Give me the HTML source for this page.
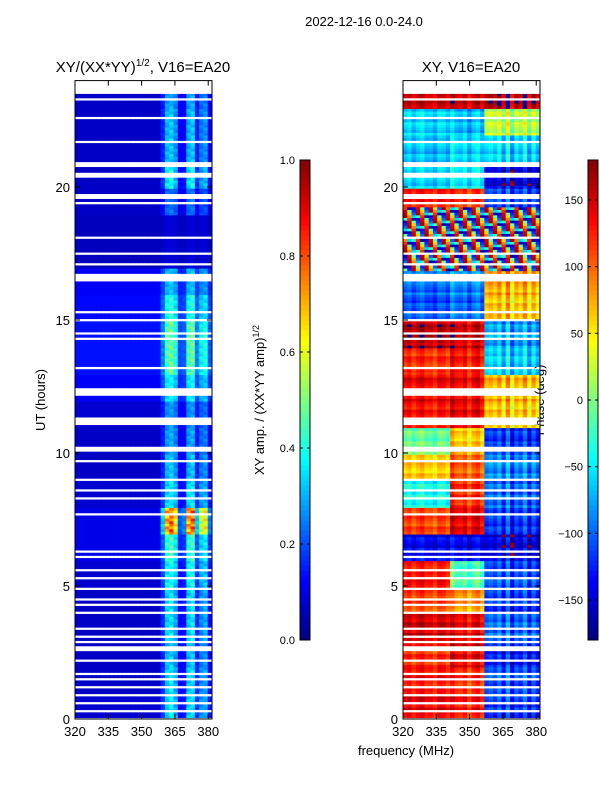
<!DOCTYPE html>
<html><head><meta charset="utf-8"><style>
body{margin:0;background:#fff;}
svg text{font-family:"Liberation Sans",sans-serif;fill:#000;}
</style></head><body>
<svg id="fig" width="600" height="800" viewBox="0 0 600 800" xmlns="http://www.w3.org/2000/svg">
<rect width="600" height="800" fill="#fff"/>
<text x="364" y="26" font-size="13" text-anchor="middle">2022-12-16 0.0-24.0</text>
<text x="143" y="72" font-size="15" text-anchor="middle">XY/(XX*YY)<tspan font-size="10" dy="-6">1/2</tspan><tspan dy="6">, V16=EA20</tspan></text>
<text x="471" y="72" font-size="15" text-anchor="middle">XY, V16=EA20</text>
<text x="406" y="755" font-size="13" text-anchor="middle">frequency (MHz)</text>
<text transform="translate(45,400) rotate(-90)" font-size="13" text-anchor="middle">UT (hours)</text>
<text transform="translate(264,400) rotate(-90)" font-size="13" text-anchor="middle">XY amp. / (XX*YY amp)<tspan font-size="9" dy="-5">1/2</tspan></text>
<text transform="translate(544,400) rotate(-90)" font-size="13" text-anchor="middle">Phase (deg)</text>
<g id="leftHeat"></g>
<g id="rightHeat"></g>
<g id="axes"></g>
</svg>
<script>
// ---- data ----
const flagged=[[0.25,0.32],[0.55,0.62],[0.88,0.95],[1.18,1.25],[1.45,1.55],[1.68,1.75],[2.15,2.22],[2.55,2.7],[2.88,2.95],[3.08,3.15],[3.38,3.45],[3.98,4.05],[4.28,4.35],[4.48,4.55],[4.88,4.95],[5.28,5.35],[5.58,5.65],[6.08,6.15],[6.28,6.35],[7.68,7.75],[8.28,8.35],[8.58,8.65],[8.98,9.05],[9.68,9.75],[10.05,10.3],[11.1,11.35],[12.18,12.22],[12.28,12.32],[12.38,12.42],[13.18,13.25],[13.62,13.7],[14.28,14.35],[14.48,14.55],[14.62,14.7],[14.82,14.9],[14.98,15.05],[15.28,15.35],[16.45,16.52],[16.6,16.8],[16.85,16.9],[17.1,17.17],[17.45,17.52],[17.85,17.9],[18.1,18.17],[18.55,18.6],[18.72,18.78],[18.92,18.98],[19.4,19.48],[19.55,19.75],[20.35,20.42],[20.45,20.52],[20.78,20.85],[20.9,20.97],[21.55,21.6],[21.68,21.75],[21.82,21.9],[22.58,22.65],[23.05,23.1],[23.25,23.35]];
const ampColProfile=[0,0,0,0,0,0,0,0,0,0,0,0,0,0,0,0,0,0,0,0,0.3,0.8,0.9,0.7,0.15,0.2,0.8,0.9,0.3,0.6,0.7,0.2];
const ampHourActivity=[0.5,0.5,0.45,0.5,0.5,0.55,0.6,1.2,0.5,0.45,0.4,0.35,0.45,0.6,0.6,0.5,0.35,0.05,0.05,0.3,0.55,0.45,0.45,0.4];
const ampHourBackground=[0.08,0.07,0.07,0.07,0.07,0.08,0.1,0.1,0.08,0.07,0.07,0.08,0.12,0.14,0.14,0.13,0.12,0.06,0.06,0.07,0.07,0.07,0.07,0.07];
const phaseLow=[140,130,120,150,110,130,-140,110,-40,60,-10,130,140,120,160,-110,-100,0,0,130,-60,-70,-60,150];
const phaseMid=[130,120,140,140,80,-20,-140,140,120,100,60,140,140,130,150,-100,-90,0,0,120,-50,-60,-70,150];
const phaseHigh=[-120,-110,-130,-100,-120,-110,-150,-120,-100,-90,-120,60,70,-60,-80,60,70,0,0,-110,-150,-60,20,160];
const colOffset=[0,10,-10,5,15,-5,0,-15,10,5,-10,20,0,-5,10,-20,5,15,-10,0,10,-5,20,-20,30,-30,10,-10,25,-25,15,-15];
const noiseVals=[-170,150,-120,60,170,-60,120,-150,0,160,-100,90,-30];
// ---- scales ----
const T=80.6, B=719, L1=75, L2=403, W=137;
const fMin=320, fMax=381.7, hMax=24;
const yS=h=>B-(h/hMax)*(B-T);
const xS=(f,L)=>L+(f-fMin)/(fMax-fMin)*W;
function jet(v){v=Math.max(0,Math.min(1,v));
 const r=Math.min(4*v-1.5,-4*v+4.5),g=Math.min(4*v-0.5,-4*v+3.5),b=Math.min(4*v+0.5,-4*v+2.5);
 const c=x=>Math.round(255*Math.max(0,Math.min(1,x)));return `rgb(${c(r)},${c(g)},${c(b)})`;}
const NS="http://www.w3.org/2000/svg";
function mk(tag,attrs,parent){const e=document.createElementNS(NS,tag);for(const k in attrs)e.setAttribute(k,attrs[k]);parent.appendChild(e);return e;}
const isFlag=h=>flagged.some(([a,b])=>h>=a&&h<b);
const nC=32, dH=0.1, hStart=0.05, hEnd=23.5;
const lg=document.getElementById('leftHeat'), rg=document.getElementById('rightHeat');
for(let r=0;hStart+r*dH<hEnd;r++){
 const h0=hStart+r*dH, h1=Math.min(h0+dH,hEnd), hm=h0+dH/2;
 if(isFlag(hm))continue;
 const hr=Math.min(23,Math.floor(hm));
 const y=yS(h1), hh=yS(h0)-yS(h1)+0.4;
 for(let c=0;c<nC;c++){
  const f0=fMin+c*(fMax-fMin)/nC, f1=fMin+(c+1)*(fMax-fMin)/nC;
  let a=ampHourBackground[hr]+ampColProfile[c]*ampHourActivity[hr]*0.7*(0.8+0.2*((r+c)%3)/2);
  const x1=xS(f0,L1), w=xS(f1,L1)-x1+0.4;
  const e1=mk('rect',{x:x1,y:y,width:w,height:hh,fill:jet(a)},lg);
  
  
  let p;
  if(hm>16.8&&hm<19.3){p=noiseVals[(r*5+c*7)%noiseVals.length];}
  else{const base=c<11?phaseLow[hr]:(c<19?phaseMid[hr]:phaseHigh[hr]);p=base+colOffset[c]+((r%4)-1.5)*8;}
  p=((p+180)%360+360)%360-180;
  const x2=xS(f0,L2), w2=xS(f1,L2)-x2+0.4;
  const e2=mk('rect',{x:x2,y:y,width:w2,height:hh,fill:jet((p+180)/360)},rg);
  
  
 }
}
// ---- axes ----
const ax=document.getElementById('axes');
const xTicks=[320,335,350,365,380], yTicks=[0,5,10,15,20];
[L1,L2].forEach((L,i)=>{
 const fr=mk('rect',{x:L,y:T,width:W,height:B-T,fill:'none',stroke:'#000','stroke-width':1},ax);
 
 
 xTicks.forEach(t=>{const x=xS(t,L);
  mk('line',{x1:x,x2:x,y1:B,y2:B-5,stroke:'#000'},ax);mk('line',{x1:x,x2:x,y1:T,y2:T+5,stroke:'#000'},ax);
  const tx=mk('text',{x:x,y:B+17,'font-size':13,'text-anchor':'middle'},ax);tx.textContent=t;
  
  });
 yTicks.forEach(t=>{const y=yS(t);
  mk('line',{x1:L,x2:L+5,y1:y,y2:y,stroke:'#000'},ax);mk('line',{x1:L+W,x2:L+W-5,y1:y,y2:y,stroke:'#000'},ax);
  const tx=mk('text',{x:L-5,y:y+5,'font-size':13,'text-anchor':'end'},ax);tx.textContent=t;
  
  });
});
const cbT=160,cbB=640;
function colorbar(x,ticks,labels,lo,hi,name){
 for(let i=0;i<96;i++){const v=i/96;const y=cbB-(i+1)*(cbB-cbT)/96;
  mk('rect',{x:x,y:y,width:10,height:(cbB-cbT)/96+0.5,fill:jet(v+0.5/96)},ax);}
 const fr=mk('rect',{x:x,y:cbT,width:10,height:cbB-cbT,fill:'none',stroke:'#000'},ax);
 
 
 ticks.forEach((t,i)=>{const y=cbB-(t-lo)/(hi-lo)*(cbB-cbT);
  mk('line',{x1:x,x2:x+3,y1:y,y2:y,stroke:'#000'},ax);mk('line',{x1:x+10,x2:x+7,y1:y,y2:y,stroke:'#000'},ax);
  const tx=mk('text',{x:x-5,y:y+4,'font-size':11,'text-anchor':'end'},ax);tx.textContent=labels[i];
  
  });
}
const ampCbTicks=[0,0.2,0.4,0.6,0.8,1.0];
colorbar(300,ampCbTicks,ampCbTicks.map(v=>v.toFixed(1)),0,1,'amplitude-colorbar');
const phaseCbTicks=[-150,-100,-50,0,50,100,150];
colorbar(588,phaseCbTicks,phaseCbTicks.map(v=>String(v).replace('-','\u2212')),-180,180,'phase-colorbar');
</script>
</body></html>
